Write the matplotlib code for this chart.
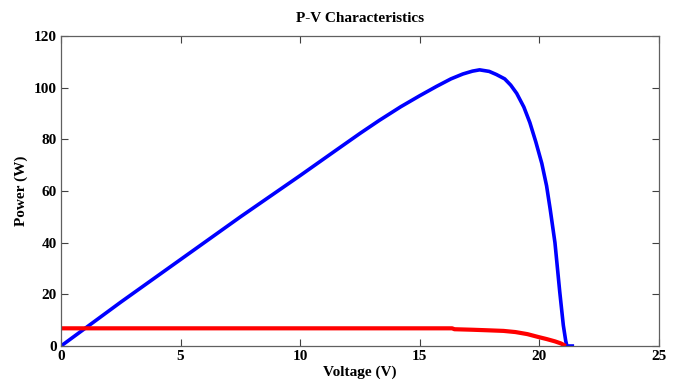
import matplotlib
matplotlib.use("Agg")
import matplotlib.pyplot as plt

# Power curve (P-V)
pv_voltage = [0, 2.5, 5, 7.5, 10, 11.5, 12.5, 13.3, 14.2, 15, 15.7, 16.3, 16.8, 17.2, 17.5,
              17.9, 18.2, 18.55, 18.8, 19.05, 19.35, 19.6, 19.85, 20.1, 20.3, 20.45,
              20.65, 20.85, 21.0, 21.1, 21.15, 21.45]
pv_power = [0, 17, 33.5, 50, 66, 75.8, 82.3, 87.3, 92.6, 96.9, 100.5, 103.4, 105.3, 106.4, 106.9,
            106.3, 105.1, 103.4, 101, 97.8, 92.5, 86.5, 79, 70.7, 62, 53,
            40, 21, 8, 2, 0, 0]

# Current curve (I-V)
iv_voltage = [0, 5, 10, 15, 16.35, 16.45, 17.2, 17.8, 18.5, 19.0, 19.5, 19.95, 20.3,
              20.65, 20.9, 21.1]
iv_current = [6.85, 6.85, 6.85, 6.85, 6.85, 6.5, 6.3, 6.1, 5.85, 5.4, 4.6, 3.5, 2.7,
              1.8, 1.0, 0]

xticks = [0, 5, 10, 15, 20, 25]
yticks = [0, 20, 40, 60, 80, 100, 120]

plt.rcParams['font.family'] = ['Liberation Serif', 'DejaVu Serif']
plt.rcParams['font.weight'] = 'bold'

fig = plt.figure(figsize=(6.81, 3.88), dpi=100)
ax = fig.add_axes([0.0896, 0.1082, 0.8781, 0.7990])

ax.plot(pv_voltage, pv_power, color='#0000ff', lw=2.6, solid_capstyle='butt',
        solid_joinstyle='round')
ax.plot(iv_voltage, iv_current, color='#ff0000', lw=3.0, solid_capstyle='butt',
        solid_joinstyle='round')

ax.set_xlim(0, 25)
ax.set_ylim(0, 120)
ax.set_xticks(xticks)
ax.set_yticks(yticks)
ax.tick_params(direction='in', length=5, width=0.8, top=True, right=True,
               labelsize=11, color='#404040', pad=3)
for lab in ax.get_xticklabels() + ax.get_yticklabels():
    lab.set_fontweight('bold')
for s in ax.spines.values():
    s.set_color('#606060')
    s.set_linewidth(0.9)

ax.set_title('P-V Characteristics', fontsize=11, fontweight='bold', pad=10)
ax.set_xlabel('Voltage (V)', fontsize=11, fontweight='bold', labelpad=2)
ax.set_ylabel('Power (W)', fontsize=11, fontweight='bold', labelpad=4)

fig.savefig('out.png', dpi=100)
